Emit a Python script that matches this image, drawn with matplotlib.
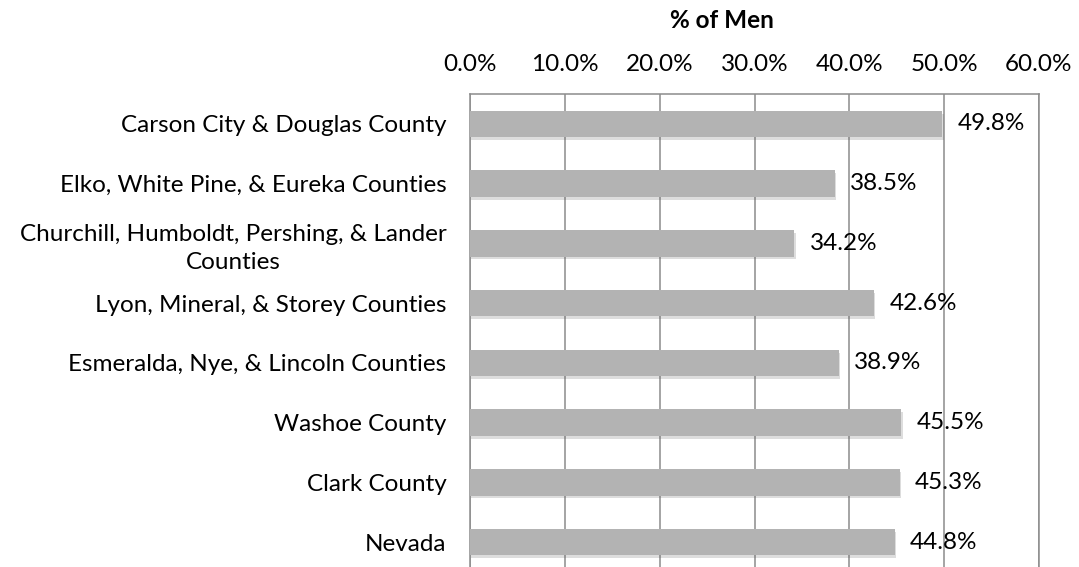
import matplotlib
matplotlib.use("Agg")
import matplotlib.pyplot as plt
import matplotlib.patheffects as pe
from matplotlib.ticker import FuncFormatter

regions = [
    "Carson City & Douglas County",
    "Elko, White Pine, & Eureka Counties",
    "Churchill, Humboldt, Pershing, & Lander\nCounties",
    "Lyon, Mineral, & Storey Counties",
    "Esmeralda, Nye, & Lincoln Counties",
    "Washoe County",
    "Clark County",
    "Nevada",
]
pct_men = [49.8, 38.5, 34.2, 42.6, 38.9, 45.5, 45.3, 44.8]
x_ticks = [0, 10, 20, 30, 40, 50, 60]

plt.rcParams["font.family"] = ["Lato", "DejaVu Sans"]
FS = 17.5

W, H = 1079, 567
fig = plt.figure(figsize=(W / 100, H / 100), dpi=100)
ax = fig.add_axes([470 / W, -5 / H, 569 / W, 478 / H])

grid_col = "#8c8c8c"
y = list(range(len(regions)))
bars = ax.barh(y, pct_men, height=0.44, color="#b3b3b3", zorder=3)
for b in bars:
    b.set_path_effects([
        pe.SimplePatchShadow(offset=(1, -2), shadow_rgbFace="#666666", alpha=0.22),
        pe.Normal(),
    ])

for yi, v in zip(y, pct_men):
    ax.annotate(f"{v:.1f}%", xy=(v, yi), xytext=(11, 0), textcoords="offset points",
                va="center", ha="left", fontsize=FS, color="black", zorder=4)

ax.set_xlim(0, 60)
ax.set_ylim(len(regions) - 0.5, -0.5)
ax.set_xticks(x_ticks)
ax.xaxis.set_major_formatter(FuncFormatter(lambda v, p: f"{v:.1f}%"))
ax.xaxis.tick_top()
ax.tick_params(axis="x", length=0, pad=14, labelsize=FS)
ax.set_yticks(y)
ax.set_yticklabels(regions, multialignment="center", linespacing=1.4)
ax.tick_params(axis="y", length=0, pad=17, labelsize=FS)

ax.grid(axis="x", color=grid_col, linewidth=1.1, zorder=0)
for side in ["left", "top", "right", "bottom"]:
    ax.spines[side].set_color(grid_col)
    ax.spines[side].set_linewidth(1.1)

fig.text(722 / W, 1 - 21 / H, "% of Men", ha="center", va="center",
         fontsize=FS, fontweight="bold")

fig.savefig("out.png", dpi=100)
